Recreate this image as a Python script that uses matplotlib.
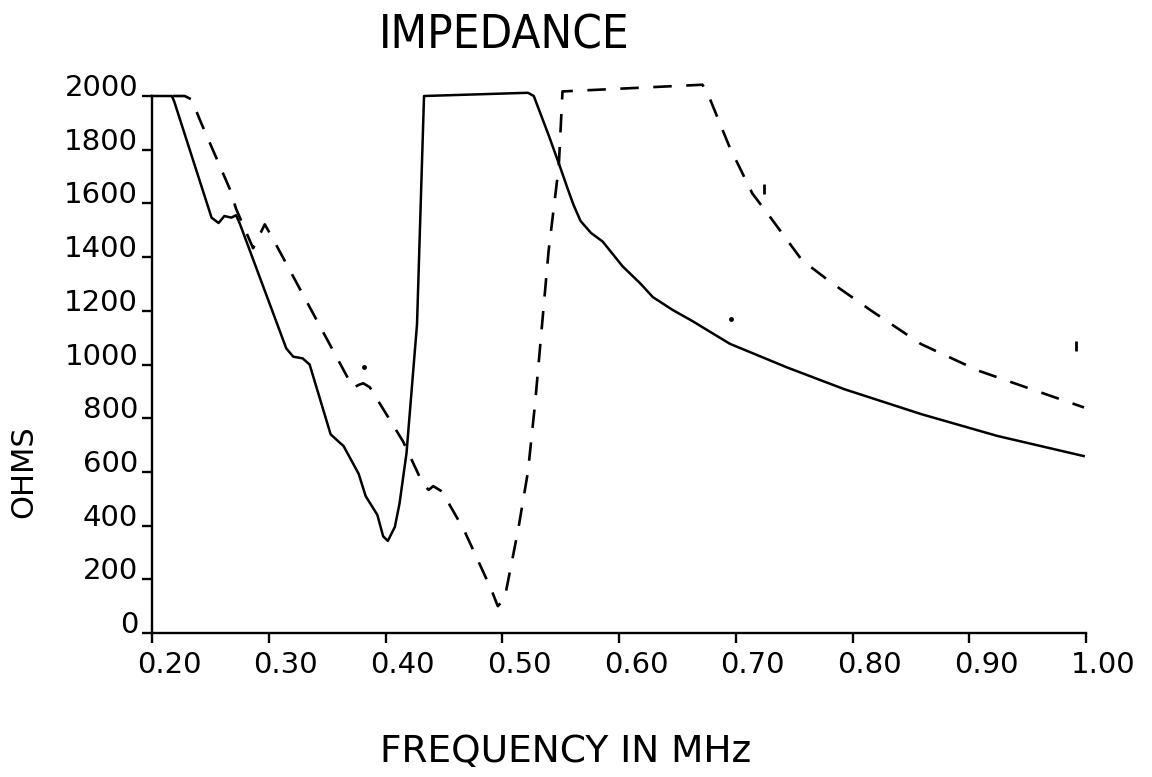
import numpy as np
import matplotlib
matplotlib.use("Agg")
import matplotlib.pyplot as plt
from matplotlib.transforms import ScaledTranslation

# ---- data ----
solid_freq = [0.200, 0.217, 0.219, 0.251, 0.257, 0.262, 0.268, 0.272, 0.275, 0.315,
              0.321, 0.329, 0.335, 0.353, 0.361, 0.364, 0.377, 0.383, 0.393, 0.398,
              0.402, 0.408, 0.412, 0.418, 0.427, 0.433, 0.522, 0.527, 0.540, 0.550,
              0.556, 0.561, 0.567, 0.576, 0.586, 0.603, 0.618, 0.629, 0.646, 0.662,
              0.695, 0.744, 0.793, 0.859, 0.924, 0.998]
solid_ohms = [2000, 2000, 1980, 1547, 1527, 1553, 1547, 1556, 1527, 1060,
              1029, 1023, 1000, 740, 708, 697, 593, 510, 440, 360,
              343, 395, 482, 670, 1150, 2000, 2012, 2000, 1851, 1730,
              1655, 1595, 1535, 1490, 1458, 1366, 1303, 1251, 1203, 1164,
              1077, 989, 908, 815, 734, 659]

dash_freq = [0.218, 0.228, 0.234, 0.241, 0.267, 0.272, 0.2866, 0.2966, 0.3037, 0.3723,
             0.3775, 0.381, 0.3866, 0.4151, 0.4237, 0.4323, 0.437, 0.4409, 0.4484, 0.4672,
             0.4904, 0.4962, 0.502, 0.5136, 0.522, 0.5281, 0.5397, 0.5484, 0.5516, 0.6715,
             0.6764, 0.6945, 0.7142, 0.7273, 0.7568, 0.7831, 0.8159, 0.8587, 0.9079, 0.9572, 0.9983]
dash_ohms = [2000, 2000, 1987, 1911, 1650, 1580, 1433, 1522, 1467, 913,
             925, 930, 915, 713, 633, 553, 533, 547, 527, 384,
             164, 100, 128, 384, 600, 854, 1423, 1737, 2017, 2042,
             2005, 1812, 1637, 1562, 1388, 1301, 1201, 1076, 977, 902, 840]

stray_dot_freq = [0.382, 0.696]
stray_dot_ohms = [990, 1170]
stray_tick_freq = [0.724, 0.9917]
stray_tick_ohms = [1652, 1070]

x_ticks = [0.20, 0.30, 0.40, 0.50, 0.60, 0.70, 0.80, 0.90, 1.00]
x_ticklabels = ["0.20", "0.30", "0.40", "0.50", "0.60", "0.70", "0.80", "0.90", "1.00"]
y_ticks = [0, 200, 400, 600, 800, 1000, 1200, 1400, 1600, 1800, 2000]
y_ticklabels = ["0", "200", "400", "600", "800", "1000", "1200", "1400", "1600", "1800", "2000"]

title = "IMPEDANCE"
xlabel = "FREQUENCY IN MHz"
ylabel = "OHMS"

# ---- figure ----
W, H = 1152, 777
fig = plt.figure(figsize=(W / 100, H / 100), dpi=100)
ax = fig.add_axes([152 / W, 1 - 633 / H, (1086 - 152) / W, (633 - 96) / H])

ax.plot(solid_freq, solid_ohms, color="black", lw=1.8, solid_joinstyle="round", clip_on=False)
ax.plot(dash_freq, dash_ohms, color="black", lw=1.9, dashes=(7, 5.5), clip_on=False)
ax.plot(stray_dot_freq, stray_dot_ohms, ls="none", marker="o", ms=2.5, color="black", clip_on=False)
ax.plot(stray_tick_freq, stray_tick_ohms, ls="none", marker="|", ms=7, mew=2, color="black", clip_on=False)

ax.set_xlim(0.2, 1.0)
ax.set_ylim(0, 2000)

for s in ["top", "right"]:
    ax.spines[s].set_visible(False)
for s in ["left", "bottom"]:
    ax.spines[s].set_linewidth(1.7)

ax.set_xticks(x_ticks)
ax.set_xticklabels(x_ticklabels)
ax.set_yticks(y_ticks)
ax.set_yticklabels(y_ticklabels)
ax.tick_params(axis="x", direction="out", length=7, width=1.7, pad=6, labelsize=21)
ax.tick_params(axis="y", direction="out", length=7, width=1.7, pad=3, labelsize=21)

off = ScaledTranslation(17 / 100, 0, fig.dpi_scale_trans)
for lbl in ax.get_xticklabels():
    lbl.set_transform(lbl.get_transform() + off)
for lbl in ax.get_yticklabels():
    lbl.set_verticalalignment("baseline")

fig.text(504 / W, 1 - 36 / H, title, ha="center", va="center", fontsize=34,
         fontstretch="condensed", fontweight="light", family="DejaVu Sans")
fig.text(566 / W, 1 - 752 / H, xlabel, ha="center", va="center", fontsize=27)
fig.text(24 / W, 1 - 472 / H, ylabel, ha="center", va="center", fontsize=22, rotation=90)

fig.savefig("out.png", dpi=100)
